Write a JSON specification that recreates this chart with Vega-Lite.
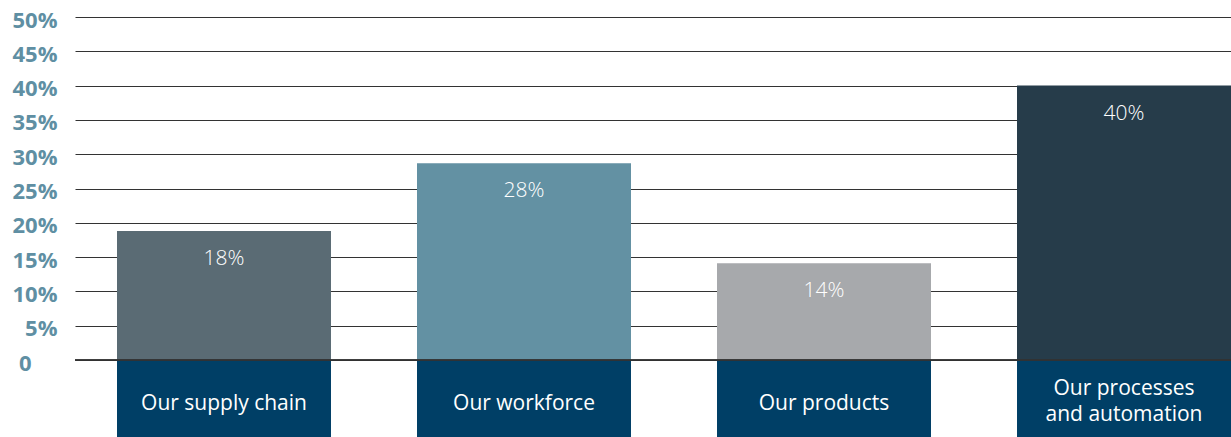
{
  "$schema": "https://vega.github.io/schema/vega-lite/v6.json",
  "width": 1156,
  "height": 420,
  "autosize": {"type": "none"},
  "padding": {"left": 75, "top": 17, "right": 0, "bottom": 0},
  "background": "white",
  "config": {"view": {"stroke": null}},
  "data": {
    "values": [
      {"category": "Our supply chain", "value": 18.8, "label": "18%"},
      {"category": "Our workforce", "value": 28.7, "label": "28%"},
      {"category": "Our products", "value": 14.1, "label": "14%"},
      {"category": "Our processes\nand automation", "value": 40, "label": "40%"}
    ]
  },
  "encoding": {
    "x": {
      "field": "category",
      "type": "nominal",
      "sort": null,
      "scale": {"paddingInner": 0.2867, "paddingOuter": 0.07, "align": 1, "round": false},
      "axis": null
    }
  },
  "layer": [
    {
      "mark": {"type": "bar", "cornerRadius": 0},
      "encoding": {
        "y": {
          "field": "value",
          "type": "quantitative",
          "scale": {"domain": [-11.22, 50], "nice": false, "zero": false},
          "axis": {
            "values": [0, 5, 10, 15, 20, 25, 30, 35, 40, 45, 50],
            "labelExpr": "datum.value == 0 ? '0' : datum.value + '%'",
            "domain": false,
            "ticks": false,
            "title": null,
            "grid": true,
            "gridColor": "#333333",
            "gridWidth": 1,
            "gridOpacity": 1,
            "labelFont": "Open Sans",
            "labelFontWeight": "bold",
            "labelFontSize": 22,
            "labelColor": "#5f8fa3",
            "labelBaseline": "middle",
            "labelOffset": 3,
            "labelPadding": {"condition": {"test": "datum.value == 0", "value": 44}, "value": 18}
          }
        },
        "color": {
          "field": "category",
          "type": "nominal",
          "sort": null,
          "scale": {"range": ["#5a6b74", "#6391a3", "#a7a9ac", "#263c4a"]},
          "legend": null
        }
      }
    },
    {
      "mark": {"type": "bar", "color": "#003f66"},
      "encoding": {
        "y": {"datum": -11.22},
        "y2": {"datum": 0}
      }
    },
    {
      "mark": {"type": "rule", "color": "#333333", "strokeWidth": 1},
      "encoding": {"y": {"datum": 0}, "x": {"value": 0}, "x2": {"value": 1156}}
    },
    {
      "mark": {"type": "text", "color": "white", "font": "Open Sans", "fontSize": 21, "fontWeight": 300, "baseline": "middle", "dy": 28},
      "encoding": {
        "y": {"field": "value", "type": "quantitative"},
        "text": {"field": "label"}
      }
    },
    {
      "transform": [{"filter": "indexof(datum.category, '\\n') < 0"}],
      "mark": {"type": "text", "color": "white", "font": "Open Sans", "fontSize": 21, "baseline": "middle", "dy": 5},
      "encoding": {
        "y": {"datum": -5.61},
        "text": {"field": "category"}
      }
    },
    {
      "transform": [{"filter": "indexof(datum.category, '\\n') >= 0"}],
      "mark": {"type": "text", "color": "white", "font": "Open Sans", "fontSize": 21, "baseline": "middle", "lineBreak": "\n", "lineHeight": 26, "dy": -10},
      "encoding": {
        "y": {"datum": -5.61},
        "text": {"field": "category"}
      }
    }
  ]
}
